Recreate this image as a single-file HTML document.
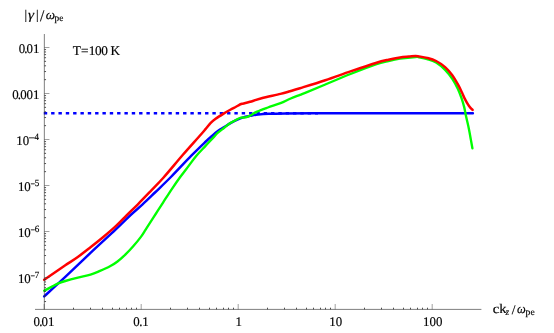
<!DOCTYPE html><html lang="en"><head><title>Growth rate vs wavenumber, T=100 K</title><meta charset="utf-8"><style>html,body{margin:0;padding:0;background:#fff}svg{display:block}text{font-family:"Liberation Serif",serif;fill:#000;stroke:#000;stroke-width:0.18px;text-rendering:geometricPrecision}</style></head><body>
<svg width="554" height="333" viewBox="0 0 554 333">
<rect width="100%" height="100%" fill="#fff"/>
<line x1="43.8" y1="113.2" x2="318" y2="113.2" stroke="#0000ff" stroke-width="2.5" stroke-dasharray="3.4 3.93"/>
<path d="M44.20 296.40 C47.72 293.15 57.58 284.15 65.30 276.90 C73.02 269.65 82.08 260.82 90.50 252.90 C98.92 244.98 109.12 235.72 115.80 229.40 C122.48 223.08 126.13 219.17 130.60 215.00 C135.07 210.83 138.53 208.15 142.60 204.40 C146.67 200.65 150.28 197.07 155.00 192.50 C159.72 187.93 164.88 183.10 170.90 177.00 C176.92 170.90 185.37 161.73 191.10 155.90 C196.83 150.07 201.72 145.42 205.30 142.00 C208.88 138.58 210.50 137.22 212.60 135.40 C214.70 133.58 215.97 132.48 217.90 131.10 C219.83 129.72 222.10 128.43 224.20 127.10 C226.30 125.77 228.38 124.32 230.50 123.10 C232.62 121.88 234.78 120.77 236.90 119.80 C239.02 118.83 241.02 117.95 243.20 117.30 C245.38 116.65 247.53 116.35 250.00 115.90 C252.47 115.45 254.92 114.95 258.00 114.60 C261.08 114.25 264.00 113.99 268.50 113.80 C273.00 113.61 276.42 113.53 285.00 113.45 C293.58 113.37 307.50 113.34 320.00 113.30 C332.50 113.26 334.52 113.22 360.00 113.20 C385.48 113.18 454.08 113.20 472.90 113.20" fill="none" stroke="#0000ff" stroke-width="2.45" stroke-linejoin="round" stroke-linecap="round"/>
<path d="M44.20 290.75 C45.50 290.06 49.54 287.86 52.00 286.60 C54.46 285.34 56.73 284.13 58.95 283.20 C61.17 282.27 62.14 281.93 65.30 281.00 C68.46 280.07 73.70 278.67 77.90 277.60 C82.10 276.53 86.82 275.72 90.50 274.60 C94.18 273.48 96.75 272.28 100.00 270.90 C103.25 269.52 107.08 267.87 110.00 266.30 C112.92 264.73 114.95 263.45 117.50 261.50 C120.05 259.55 122.72 257.10 125.30 254.60 C127.88 252.10 130.37 249.50 133.00 246.50 C135.63 243.50 139.02 239.38 141.10 236.60 C143.18 233.82 144.13 231.92 145.50 229.80 C146.87 227.68 147.55 226.62 149.30 223.90 C151.05 221.18 153.68 217.10 156.00 213.50 C158.32 209.90 160.53 206.42 163.20 202.30 C165.87 198.18 169.13 193.05 172.00 188.80 C174.87 184.55 177.65 180.58 180.40 176.80 C183.15 173.02 185.87 169.58 188.50 166.10 C191.13 162.62 193.40 159.23 196.20 155.90 C199.00 152.57 202.42 149.18 205.30 146.10 C208.18 143.02 211.40 139.63 213.50 137.40 C215.60 135.17 216.12 134.30 217.90 132.70 C219.68 131.10 222.13 129.40 224.20 127.80 C226.27 126.20 228.33 124.42 230.30 123.10 C232.27 121.78 234.22 120.80 236.00 119.90 C237.78 119.00 239.38 118.12 241.00 117.70 C242.62 117.28 244.28 117.70 245.70 117.40 C247.12 117.10 247.58 116.87 249.50 115.90 C251.42 114.93 254.13 113.00 257.20 111.60 C260.27 110.20 264.02 108.90 267.90 107.50 C271.78 106.10 276.70 104.70 280.50 103.20 C284.30 101.70 287.45 99.88 290.70 98.50 C293.95 97.12 297.38 95.92 300.00 94.90 C302.62 93.88 302.18 94.13 306.40 92.40 C310.62 90.67 317.95 87.57 325.30 84.50 C332.65 81.43 342.08 77.35 350.50 74.00 C358.92 70.65 369.47 66.57 375.80 64.40 C382.13 62.23 384.47 61.95 388.50 61.00 C392.53 60.05 395.50 59.37 400.00 58.70 C404.50 58.03 412.33 57.22 415.50 57.00 C418.67 56.78 417.07 57.07 419.00 57.40 C420.93 57.73 424.25 58.17 427.10 59.00 C429.95 59.83 433.10 60.60 436.10 62.40 C439.10 64.20 442.40 67.07 445.10 69.80 C447.80 72.53 450.17 75.60 452.30 78.80 C454.43 82.00 456.37 85.78 457.90 89.00 C459.43 92.22 460.45 95.08 461.50 98.10 C462.55 101.12 463.45 104.10 464.20 107.10 C464.95 110.10 465.22 112.47 466.00 116.10 C466.78 119.73 468.08 124.93 468.90 128.90 C469.72 132.87 470.32 136.67 470.90 139.90 C471.48 143.13 472.15 146.90 472.40 148.30" fill="none" stroke="#00ff00" stroke-width="2.35" stroke-linejoin="round" stroke-linecap="round"/>
<path d="M44.20 279.70 C45.60 278.75 49.08 276.40 52.60 274.00 C56.12 271.60 61.10 268.13 65.30 265.30 C69.50 262.47 73.60 260.00 77.80 257.00 C82.00 254.00 86.30 250.58 90.50 247.30 C94.70 244.02 98.78 240.82 103.00 237.30 C107.22 233.78 111.83 229.88 115.80 226.20 C119.77 222.52 123.12 218.85 126.80 215.20 C130.48 211.55 134.03 208.20 137.90 204.30 C141.77 200.40 145.72 196.27 150.00 191.80 C154.28 187.33 158.12 183.67 163.60 177.50 C169.08 171.33 177.05 161.55 182.90 154.80 C188.75 148.05 194.97 141.23 198.70 137.00 C202.43 132.77 203.33 131.70 205.30 129.40 C207.27 127.10 208.78 124.97 210.50 123.20 C212.22 121.43 213.42 120.40 215.60 118.80 C217.78 117.20 221.15 115.11 223.60 113.60 C226.05 112.09 228.23 110.89 230.30 109.75 C232.37 108.61 234.55 107.53 236.00 106.75 C237.45 105.97 238.13 105.51 239.00 105.05 C239.87 104.59 240.45 104.26 241.20 104.00 C241.95 103.74 242.03 103.87 243.50 103.50 C244.97 103.13 246.98 102.67 250.00 101.80 C253.02 100.93 256.52 99.62 261.60 98.30 C266.68 96.98 275.77 95.08 280.50 93.90 C285.23 92.72 286.75 92.15 290.00 91.20 C293.25 90.25 294.12 90.03 300.00 88.20 C305.88 86.37 316.88 83.00 325.30 80.20 C333.72 77.40 342.08 74.27 350.50 71.40 C358.92 68.53 369.47 64.95 375.80 63.00 C382.13 61.05 384.47 60.62 388.50 59.70 C392.53 58.78 396.58 58.02 400.00 57.50 C403.42 56.98 406.42 56.85 409.00 56.60 C411.58 56.35 413.83 56.03 415.50 56.00 C417.17 55.97 417.07 56.08 419.00 56.40 C420.93 56.72 424.25 57.13 427.10 57.90 C429.95 58.67 433.10 59.47 436.10 61.00 C439.10 62.53 442.40 64.73 445.10 67.10 C447.80 69.47 450.18 72.35 452.30 75.20 C454.42 78.05 456.13 81.20 457.80 84.20 C459.47 87.20 461.23 90.97 462.30 93.20 C463.37 95.43 463.28 95.77 464.20 97.60 C465.12 99.43 466.75 102.48 467.80 104.20 C468.85 105.92 469.70 106.95 470.50 107.90 C471.30 108.85 472.25 109.57 472.60 109.90" fill="none" stroke="#ff0000" stroke-width="2.50" stroke-linejoin="round" stroke-linecap="round"/>
<g stroke="#303030" stroke-width="0.62" fill="none">
<line x1="35" y1="309.4" x2="481.4" y2="309.4"/>
<line x1="44.35" y1="34" x2="44.35" y2="309.4"/>
<line x1="44.20" y1="309.4" x2="44.20" y2="304.0" stroke-opacity="0.75"/>
<line x1="73.50" y1="309.4" x2="73.50" y2="307.7" stroke-width="0.85"/>
<line x1="90.50" y1="309.4" x2="90.50" y2="307.7" stroke-width="0.85"/>
<line x1="102.50" y1="309.4" x2="102.50" y2="307.7" stroke-width="0.85"/>
<line x1="112.50" y1="309.4" x2="112.50" y2="307.7" stroke-width="0.85"/>
<line x1="119.50" y1="309.4" x2="119.50" y2="307.7" stroke-width="0.85"/>
<line x1="126.50" y1="309.4" x2="126.50" y2="307.7" stroke-width="0.85"/>
<line x1="131.50" y1="309.4" x2="131.50" y2="307.7" stroke-width="0.85"/>
<line x1="136.50" y1="309.4" x2="136.50" y2="307.7" stroke-width="0.85"/>
<line x1="141.20" y1="309.4" x2="141.20" y2="304.0" stroke-opacity="0.75"/>
<line x1="170.50" y1="309.4" x2="170.50" y2="307.7" stroke-width="0.85"/>
<line x1="187.50" y1="309.4" x2="187.50" y2="307.7" stroke-width="0.85"/>
<line x1="199.50" y1="309.4" x2="199.50" y2="307.7" stroke-width="0.85"/>
<line x1="209.50" y1="309.4" x2="209.50" y2="307.7" stroke-width="0.85"/>
<line x1="216.50" y1="309.4" x2="216.50" y2="307.7" stroke-width="0.85"/>
<line x1="223.50" y1="309.4" x2="223.50" y2="307.7" stroke-width="0.85"/>
<line x1="228.50" y1="309.4" x2="228.50" y2="307.7" stroke-width="0.85"/>
<line x1="233.50" y1="309.4" x2="233.50" y2="307.7" stroke-width="0.85"/>
<line x1="238.20" y1="309.4" x2="238.20" y2="304.0" stroke-opacity="0.75"/>
<line x1="267.50" y1="309.4" x2="267.50" y2="307.7" stroke-width="0.85"/>
<line x1="284.50" y1="309.4" x2="284.50" y2="307.7" stroke-width="0.85"/>
<line x1="296.50" y1="309.4" x2="296.50" y2="307.7" stroke-width="0.85"/>
<line x1="306.50" y1="309.4" x2="306.50" y2="307.7" stroke-width="0.85"/>
<line x1="313.50" y1="309.4" x2="313.50" y2="307.7" stroke-width="0.85"/>
<line x1="320.50" y1="309.4" x2="320.50" y2="307.7" stroke-width="0.85"/>
<line x1="325.50" y1="309.4" x2="325.50" y2="307.7" stroke-width="0.85"/>
<line x1="330.50" y1="309.4" x2="330.50" y2="307.7" stroke-width="0.85"/>
<line x1="335.20" y1="309.4" x2="335.20" y2="304.0" stroke-opacity="0.75"/>
<line x1="364.50" y1="309.4" x2="364.50" y2="307.7" stroke-width="0.85"/>
<line x1="381.50" y1="309.4" x2="381.50" y2="307.7" stroke-width="0.85"/>
<line x1="393.50" y1="309.4" x2="393.50" y2="307.7" stroke-width="0.85"/>
<line x1="403.50" y1="309.4" x2="403.50" y2="307.7" stroke-width="0.85"/>
<line x1="410.50" y1="309.4" x2="410.50" y2="307.7" stroke-width="0.85"/>
<line x1="417.50" y1="309.4" x2="417.50" y2="307.7" stroke-width="0.85"/>
<line x1="422.50" y1="309.4" x2="422.50" y2="307.7" stroke-width="0.85"/>
<line x1="427.50" y1="309.4" x2="427.50" y2="307.7" stroke-width="0.85"/>
<line x1="432.20" y1="309.4" x2="432.20" y2="304.0" stroke-opacity="0.75"/>
<line x1="44.35" y1="47.50" x2="49.45" y2="47.50" stroke-opacity="0.75"/>
<line x1="44.35" y1="79.65" x2="46.05" y2="79.65" stroke-width="0.85"/>
<line x1="44.35" y1="71.55" x2="46.05" y2="71.55" stroke-width="0.85"/>
<line x1="44.35" y1="65.81" x2="46.05" y2="65.81" stroke-width="0.85"/>
<line x1="44.35" y1="61.35" x2="46.05" y2="61.35" stroke-width="0.85"/>
<line x1="44.35" y1="57.71" x2="46.05" y2="57.71" stroke-width="0.85"/>
<line x1="44.35" y1="54.63" x2="46.05" y2="54.63" stroke-width="0.85"/>
<line x1="44.35" y1="51.96" x2="46.05" y2="51.96" stroke-width="0.85"/>
<line x1="44.35" y1="49.60" x2="46.05" y2="49.60" stroke-width="0.85"/>
<line x1="44.35" y1="93.50" x2="49.45" y2="93.50" stroke-opacity="0.75"/>
<line x1="44.35" y1="125.65" x2="46.05" y2="125.65" stroke-width="0.85"/>
<line x1="44.35" y1="117.55" x2="46.05" y2="117.55" stroke-width="0.85"/>
<line x1="44.35" y1="111.81" x2="46.05" y2="111.81" stroke-width="0.85"/>
<line x1="44.35" y1="107.35" x2="46.05" y2="107.35" stroke-width="0.85"/>
<line x1="44.35" y1="103.71" x2="46.05" y2="103.71" stroke-width="0.85"/>
<line x1="44.35" y1="100.63" x2="46.05" y2="100.63" stroke-width="0.85"/>
<line x1="44.35" y1="97.96" x2="46.05" y2="97.96" stroke-width="0.85"/>
<line x1="44.35" y1="95.60" x2="46.05" y2="95.60" stroke-width="0.85"/>
<line x1="44.35" y1="139.50" x2="49.45" y2="139.50" stroke-opacity="0.75"/>
<line x1="44.35" y1="171.65" x2="46.05" y2="171.65" stroke-width="0.85"/>
<line x1="44.35" y1="163.55" x2="46.05" y2="163.55" stroke-width="0.85"/>
<line x1="44.35" y1="157.81" x2="46.05" y2="157.81" stroke-width="0.85"/>
<line x1="44.35" y1="153.35" x2="46.05" y2="153.35" stroke-width="0.85"/>
<line x1="44.35" y1="149.71" x2="46.05" y2="149.71" stroke-width="0.85"/>
<line x1="44.35" y1="146.63" x2="46.05" y2="146.63" stroke-width="0.85"/>
<line x1="44.35" y1="143.96" x2="46.05" y2="143.96" stroke-width="0.85"/>
<line x1="44.35" y1="141.60" x2="46.05" y2="141.60" stroke-width="0.85"/>
<line x1="44.35" y1="185.50" x2="49.45" y2="185.50" stroke-opacity="0.75"/>
<line x1="44.35" y1="217.65" x2="46.05" y2="217.65" stroke-width="0.85"/>
<line x1="44.35" y1="209.55" x2="46.05" y2="209.55" stroke-width="0.85"/>
<line x1="44.35" y1="203.81" x2="46.05" y2="203.81" stroke-width="0.85"/>
<line x1="44.35" y1="199.35" x2="46.05" y2="199.35" stroke-width="0.85"/>
<line x1="44.35" y1="195.71" x2="46.05" y2="195.71" stroke-width="0.85"/>
<line x1="44.35" y1="192.63" x2="46.05" y2="192.63" stroke-width="0.85"/>
<line x1="44.35" y1="189.96" x2="46.05" y2="189.96" stroke-width="0.85"/>
<line x1="44.35" y1="187.60" x2="46.05" y2="187.60" stroke-width="0.85"/>
<line x1="44.35" y1="231.50" x2="49.45" y2="231.50" stroke-opacity="0.75"/>
<line x1="44.35" y1="263.65" x2="46.05" y2="263.65" stroke-width="0.85"/>
<line x1="44.35" y1="255.55" x2="46.05" y2="255.55" stroke-width="0.85"/>
<line x1="44.35" y1="249.81" x2="46.05" y2="249.81" stroke-width="0.85"/>
<line x1="44.35" y1="245.35" x2="46.05" y2="245.35" stroke-width="0.85"/>
<line x1="44.35" y1="241.71" x2="46.05" y2="241.71" stroke-width="0.85"/>
<line x1="44.35" y1="238.63" x2="46.05" y2="238.63" stroke-width="0.85"/>
<line x1="44.35" y1="235.96" x2="46.05" y2="235.96" stroke-width="0.85"/>
<line x1="44.35" y1="233.60" x2="46.05" y2="233.60" stroke-width="0.85"/>
<line x1="44.35" y1="277.50" x2="49.45" y2="277.50" stroke-opacity="0.75"/>
<line x1="44.35" y1="301.55" x2="46.05" y2="301.55" stroke-width="0.85"/>
<line x1="44.35" y1="295.81" x2="46.05" y2="295.81" stroke-width="0.85"/>
<line x1="44.35" y1="291.35" x2="46.05" y2="291.35" stroke-width="0.85"/>
<line x1="44.35" y1="287.71" x2="46.05" y2="287.71" stroke-width="0.85"/>
<line x1="44.35" y1="284.63" x2="46.05" y2="284.63" stroke-width="0.85"/>
<line x1="44.35" y1="281.96" x2="46.05" y2="281.96" stroke-width="0.85"/>
<line x1="44.35" y1="279.60" x2="46.05" y2="279.60" stroke-width="0.85"/>
</g>
<g opacity="0.999" style="will-change:transform">
<text transform="translate(44.00 325.90) scale(0.970 1)" font-size="13.30" text-anchor="middle">0<tspan dx="-0.9">.</tspan><tspan dx="-0.9">01</tspan></text>
<text transform="translate(141.00 325.90) scale(0.970 1)" font-size="13.30" text-anchor="middle">0<tspan dx="-0.5">.</tspan><tspan dx="-0.3">1</tspan></text>
<text transform="translate(238.70 325.90) scale(0.970 1)" font-size="13.30" text-anchor="middle">1</text>
<text transform="translate(335.70 325.90) scale(0.970 1)" font-size="13.30" text-anchor="middle">10</text>
<text transform="translate(432.70 325.90) scale(0.970 1)" font-size="13.30" text-anchor="middle">100</text>
<text transform="translate(39.50 53.10) scale(0.970 1)" font-size="13.30" text-anchor="end">0<tspan dx="-0.9">.</tspan><tspan dx="-0.9">01</tspan></text>
<text transform="translate(39.50 99.10) scale(0.970 1)" font-size="13.30" text-anchor="end">0<tspan dx="-0.9">.</tspan><tspan dx="-0.9">001</tspan></text>
<text transform="translate(16.20 145.30) scale(0.970 1)" font-size="13.30" text-anchor="start">10</text>
<text transform="translate(28.40 140.70) scale(1.210 1)" font-size="9.60" text-anchor="start">−</text>
<text transform="translate(34.60 139.90) scale(0.930 1)" font-size="9.60" text-anchor="start">4</text>
<text transform="translate(17.90 191.30) scale(0.970 1)" font-size="13.30" text-anchor="start">10</text>
<text transform="translate(30.40 186.70) scale(0.840 1)" font-size="9.60" text-anchor="start">−</text>
<text transform="translate(34.70 185.90) scale(0.950 1)" font-size="9.60" text-anchor="start">5</text>
<text transform="translate(17.90 237.30) scale(0.970 1)" font-size="13.30" text-anchor="start">10</text>
<text transform="translate(30.40 232.70) scale(0.840 1)" font-size="9.60" text-anchor="start">−</text>
<text transform="translate(34.70 231.90) scale(0.950 1)" font-size="9.60" text-anchor="start">6</text>
<text transform="translate(17.90 283.30) scale(0.970 1)" font-size="13.30" text-anchor="start">10</text>
<text transform="translate(30.40 278.70) scale(0.840 1)" font-size="9.60" text-anchor="start">−</text>
<text transform="translate(34.70 277.90) scale(0.950 1)" font-size="9.60" text-anchor="start">7</text>
<text transform="translate(72.80 54.60) scale(1.000 1)" font-size="13.30" text-anchor="start">T<tspan dx="0.2">=</tspan><tspan dx="0.1">1</tspan><tspan dx="-0.45">0</tspan><tspan dx="-0.45">0</tspan><tspan dx="-0.7"> K</tspan></text>
<text transform="translate(24.40 19.00) scale(0.970 1)" font-size="13.30" text-anchor="start">|</text>
<text transform="translate(27.90 19.40) scale(1.150 1)" font-size="13.30" text-anchor="start"><tspan font-style="italic">γ</tspan></text>
<text transform="translate(35.90 19.00) scale(0.970 1)" font-size="13.30" text-anchor="start">|</text>
<text transform="translate(40.00 20.90) scale(0.970 1)" font-size="16.00" text-anchor="start">/</text>
<text transform="translate(45.80 19.40) scale(0.990 1)" font-size="13.30" text-anchor="start"><tspan font-style="italic">ω</tspan></text>
<text transform="translate(54.60 21.00) scale(0.970 1)" font-size="9.60" text-anchor="start">pe</text>
<text transform="translate(492.80 312.70) scale(1.090 1)" font-size="13.30" text-anchor="start">ck</text>
<text transform="translate(505.40 314.60) scale(0.970 1)" font-size="9.60" text-anchor="start"><tspan font-style="italic">z</tspan></text>
<text transform="translate(511.70 314.00) scale(1.000 1)" font-size="13.30" text-anchor="start">/</text>
<text transform="translate(517.00 312.80) scale(0.930 1)" font-size="13.30" text-anchor="start"><tspan font-style="italic">ω</tspan></text>
<text transform="translate(525.60 314.60) scale(1.000 1)" font-size="9.60" text-anchor="start">pe</text>
</g>
</svg></body></html>
